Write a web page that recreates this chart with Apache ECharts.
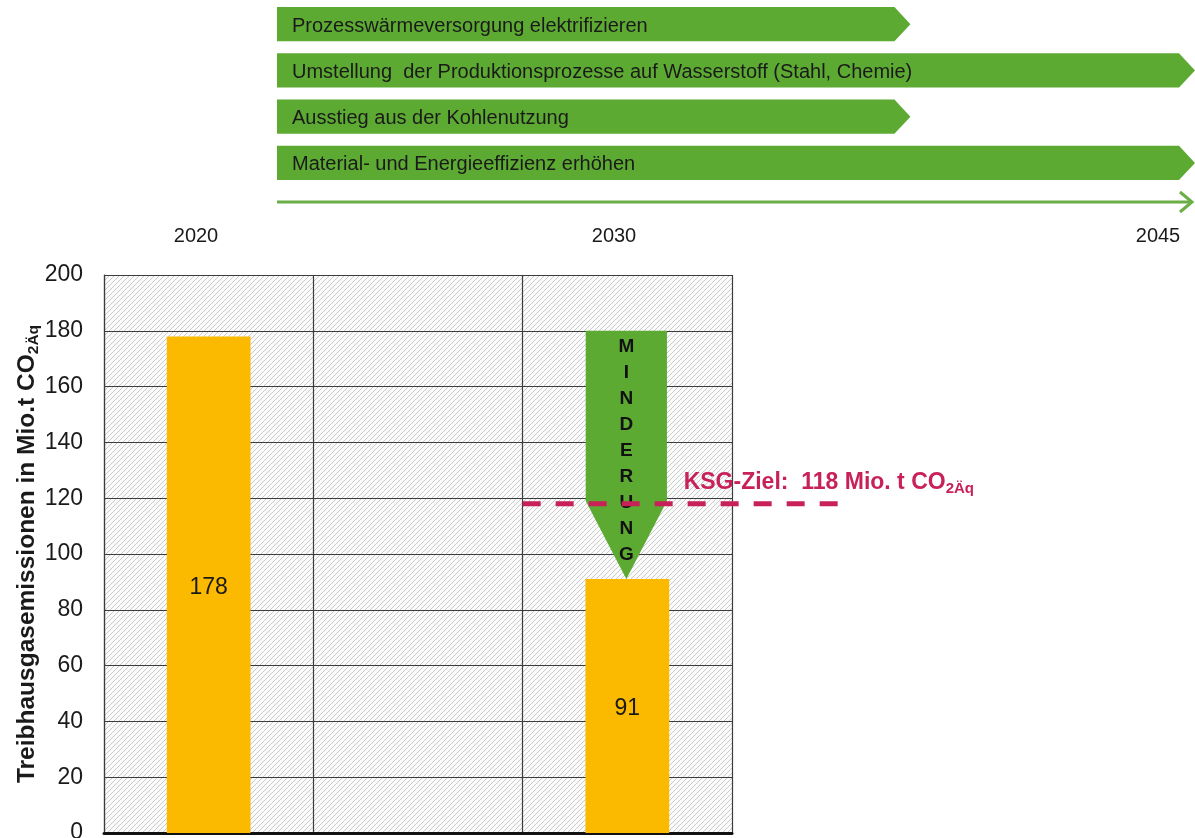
<!DOCTYPE html>
<html><head><meta charset="utf-8">
<script src="https://cdn.jsdelivr.net/npm/echarts@6/dist/echarts.min.js"></script>
<style>html,body{margin:0;padding:0;background:#fff}#c{width:1195px;height:838px}</style>
</head><body><div id="c"></div>
<script>
// ---- data ----
const categories = ['2020', '', '2030'];
const emissions = [178, null, 91];
const yMin = 0, yMax = 200, yInterval = 20;
const measures = [
  'Prozesswärmeversorgung elektrifizieren',
  'Umstellung  der Produktionsprozesse auf Wasserstoff (Stahl, Chemie)',
  'Ausstieg aus der Kohlenutzung',
  'Material- und Energieeffizienz erhöhen'
];
const measureEnds = [69, 100, 69, 100];          // % of timeline length
const timelineYears = ['2020', '2030', '2045'];
const reductionArrow = [2, 180, 119, 91];        // category, top, shaft bottom, tip
const arrowLabel = 'MINDERUNG';
const targetValue = 118;
const targetSpan = [1.5, 3.015];                 // in category units
const targetText = 'KSG-Ziel:  118 Mio. t CO';
const targetSub = '2Äq';
const yName = 'Treibhausgasemissionen in Mio.t CO';
const yNameSub = '2Äq';

// ---- styles ----
const FONT = "'Liberation Sans', Arial, Helvetica, sans-serif";
const GREEN = '#5DAA33';
const CRIMSON = '#C8215A';
const GRIDC = '#3c3c3c';

function hatch() {
  const s = 5;
  const c = document.createElement('canvas'); c.width = s; c.height = s;
  const g = c.getContext('2d');
  g.fillStyle = '#fbfbfb'; g.fillRect(0, 0, s, s);
  g.strokeStyle = '#c4c4c4'; g.lineWidth = 0.9;
  g.beginPath();
  g.moveTo(-1, s + 1); g.lineTo(s + 1, -1);
  g.moveTo(-2, 1); g.lineTo(1, -2);
  g.moveTo(s - 1, s + 2); g.lineTo(s + 2, s - 1);
  g.stroke();
  return c;
}

const chart = echarts.init(document.getElementById('c'), null, { renderer: 'canvas' });

const option = {
  animation: false,
  backgroundColor: '#ffffff',
  textStyle: { fontFamily: FONT },
  grid: [
    { left: 104, top: 275, width: 628, height: 558, show: true, borderWidth: 0,
      containLabel: false, outerBoundsMode: 'none',
      backgroundColor: { image: hatch(), repeat: 'repeat' } },
    { left: 277, top: 1, width: 918, height: 185, containLabel: false, outerBoundsMode: 'none' }
  ],
  xAxis: [
    { gridIndex: 0, type: 'category', data: categories, position: 'top',
      axisLine: { show: true, lineStyle: { color: '#555', width: 1.2 } },
      axisTick: { show: false }, axisLabel: { show: false },
      splitLine: { show: true, lineStyle: { color: GRIDC, width: 1.2 } } },
    { gridIndex: 0, type: 'category', data: categories, position: 'bottom',
      axisLine: { show: true, lineStyle: { color: '#111', width: 3 } },
      axisTick: { show: false }, axisLabel: { show: false }, splitLine: { show: false } },
    { gridIndex: 1, type: 'value', min: 0, max: 100, show: false }
  ],
  yAxis: [
    { gridIndex: 0, type: 'value', min: yMin, max: yMax, interval: yInterval,
      axisLine: { show: true, lineStyle: { color: GRIDC, width: 1.2 } },
      axisTick: { show: false },
      axisLabel: { fontSize: 23, color: '#1a1a1a', margin: 21, fontFamily: FONT },
      splitLine: { show: true, lineStyle: { color: GRIDC, width: 1.2 } },
      name: '{a|' + yName + '}{b|' + yNameSub + '}',
      nameLocation: 'middle', nameGap: 62, nameMoveOverlap: false,
      nameTextStyle: {
        rich: {
          a: { fontSize: 24.5, fontWeight: 'bold', color: '#1a1a1a', fontFamily: FONT, lineHeight: 30 },
          b: { fontSize: 15.5, fontWeight: 'bold', color: '#1a1a1a', fontFamily: FONT, verticalAlign: 'bottom', lineHeight: 30 }
        }
      } },
    { gridIndex: 1, type: 'category', data: measures, inverse: true, show: false }
  ],
  series: [
    { type: 'bar', xAxisIndex: 0, yAxisIndex: 0, data: emissions, barWidth: '40%',
      itemStyle: { color: '#FBB900' }, z: 3,
      label: { show: true, position: 'inside', offset: [0, 3], fontSize: 23, color: '#1a1a1a', fontFamily: FONT } },
    { type: 'custom', xAxisIndex: 0, yAxisIndex: 0, z: 4,
      data: [reductionArrow],
      renderItem: function (params, api) {
        const c = api.value(0);
        const band = api.size([1, 0])[0];
        const top = api.coord([c, api.value(1)]);
        const sb = api.coord([c, api.value(2)]);
        const tip = api.coord([c, api.value(3)]);
        const x = top[0] - 1, hw = band * 0.194;
        return { type: 'group', children: [
          { type: 'polygon', shape: { points: [[x - hw, top[1]], [x + hw, top[1]], [x + hw, sb[1]], [x, tip[1]], [x - hw, sb[1]]] },
            style: { fill: GREEN } },
          { type: 'text', style: { text: arrowLabel.split('').join('\n'), x: x, y: top[1] + 3,
            align: 'center', verticalAlign: 'top', lineHeight: 26,
            font: 'bold 19px ' + FONT, fill: '#111' } }
        ] };
      } },
    { type: 'custom', xAxisIndex: 0, yAxisIndex: 0, z: 6,
      data: [[targetSpan[0], targetSpan[1], targetValue]],
      renderItem: function (params, api) {
        const band = api.size([1, 0])[0];
        const base = api.coord([0, api.value(2)]);
        const xa = base[0] + api.value(0) * band;
        const xb = base[0] + api.value(1) * band;
        const y = base[1];
        return { type: 'group', children: [
          { type: 'line', shape: { x1: xa, y1: y, x2: xb, y2: y },
            style: { stroke: CRIMSON, lineWidth: 5, lineDash: [18, 15] } },
          { type: 'text', style: { text: '{a|' + targetText + '}{b|' + targetSub + '}',
            x: xa + 161, y: y - 21, align: 'left', verticalAlign: 'middle',
            rich: {
              a: { font: 'bold 23px ' + FONT, fill: CRIMSON, lineHeight: 28 },
              b: { font: 'bold 15px ' + FONT, fill: CRIMSON, verticalAlign: 'bottom', lineHeight: 28 }
            } } }
        ] };
      } },
    { type: 'custom', xAxisIndex: 2, yAxisIndex: 1, z: 2,
      data: measureEnds.map((e, i) => [i, e]),
      renderItem: function (params, api) {
        const row = api.value(0), end = api.value(1);
        const p0 = api.coord([0, row]);
        const p1 = api.coord([end, row]);
        const h = api.size([0, 1])[1] * 0.74;
        const tipLen = 16;
        const x0 = p0[0], x1 = p1[0], yc = p0[1];
        return { type: 'group', children: [
          { type: 'polygon', shape: { points: [[x0, yc - h / 2], [x1 - tipLen, yc - h / 2], [x1, yc], [x1 - tipLen, yc + h / 2], [x0, yc + h / 2]] },
            style: { fill: GREEN } },
          { type: 'text', style: { text: measures[params.dataIndex], x: x0 + 15, y: yc + 2,
            align: 'left', verticalAlign: 'middle', font: '20px ' + FONT, fill: '#1a1a1a' } }
        ] };
      } }
  ],
  graphic: [
    { type: 'line', shape: { x1: 277, y1: 202, x2: 1192, y2: 202 }, style: { stroke: '#6BAE46', lineWidth: 3 } },
    { type: 'polyline', shape: { points: [[1180, 192], [1192, 202], [1180, 212]] }, style: { stroke: '#6BAE46', lineWidth: 3, fill: null } },
    { type: 'text', x: 196, y: 236, style: { text: timelineYears[0], align: 'center', verticalAlign: 'middle', font: '20px ' + FONT, fill: '#1a1a1a' } },
    { type: 'text', x: 614, y: 236, style: { text: timelineYears[1], align: 'center', verticalAlign: 'middle', font: '20px ' + FONT, fill: '#1a1a1a' } },
    { type: 'text', x: 1158, y: 236, style: { text: timelineYears[2], align: 'center', verticalAlign: 'middle', font: '20px ' + FONT, fill: '#1a1a1a' } }
  ]
};
chart.setOption(option);
</script>
</body></html>
